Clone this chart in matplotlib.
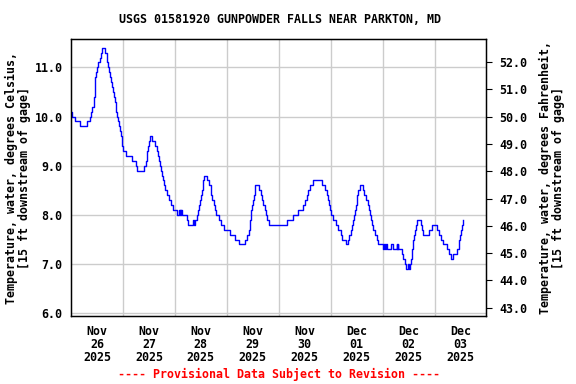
import matplotlib
matplotlib.use("Agg")
import matplotlib.pyplot as plt
from matplotlib.ticker import FixedLocator, FormatStrFormatter

# readings: hours since 2025-11-26 00:00, temperature in deg C (value holds until next reading)
hours = [
    0.0, 0.3, 2.0, 4.3, 7.5, 8.6, 9.4, 9.8, 10.5, 10.7, 10.9, 11.2, 11.6, 11.9,
    12.5, 13.2, 13.9, 14.3, 15.9, 16.5, 16.8, 17.0, 17.7, 18.0, 18.6, 19.0,
    19.4, 19.9, 20.3, 20.6, 20.9, 21.4, 21.8, 22.2, 22.8, 23.0, 23.4, 23.7,
    24.2, 25.3, 28.2, 29.9, 30.5, 33.7, 34.5, 35.0, 35.3, 35.7, 36.2, 36.6,
    37.6, 39.0, 39.6, 40.2, 40.5, 41.0, 41.4, 41.9, 42.3, 43.0, 43.6, 44.2,
    45.3, 46.1, 47.0, 48.8, 50.0, 50.3, 50.5, 50.8, 51.0, 51.3, 53.5, 54.2,
    56.5, 56.8, 57.1, 58.1, 58.8, 59.3, 59.6, 60.2, 60.5, 60.8, 61.2, 61.3,
    62.7, 63.8, 64.5, 64.8, 65.3, 66.1, 66.5, 67.0, 68.5, 69.2, 70.8, 73.5,
    75.8, 77.8, 80.6, 81.2, 82.4, 82.7, 82.9, 83.0, 83.3, 83.6, 83.9, 84.4,
    85.0, 85.2, 87.0, 87.6, 88.3, 88.9, 89.6, 90.1, 90.7, 91.6, 99.7, 102.7,
    105.1, 107.1, 108.1, 108.9, 109.7, 110.4, 112.0, 116.0, 117.4, 118.1,
    118.9, 119.4, 119.8, 120.3, 121.2, 122.3, 123.5, 124.6, 125.1, 127.1,
    128.2, 128.6, 129.2, 129.8, 130.2, 130.8, 131.2, 131.7, 132.0, 132.3,
    132.8, 133.5, 134.8, 135.4, 136.2, 137.1, 137.5, 138.2, 138.5, 139.0,
    139.7, 140.5, 141.3, 141.9, 144.0, 144.5, 145.0, 145.5, 146.0, 147.7,
    149.0, 150.5, 150.8, 151.1, 151.3, 152.8, 153.6, 154.3, 154.8, 155.5,
    156.0, 156.7, 157.1, 157.6, 157.9, 158.2, 158.5, 159.0, 159.4, 160.0,
    161.6, 162.0, 162.8, 165.6, 166.7, 169.0, 170.1, 171.0, 171.7, 173.6,
    174.8, 175.6, 176.7, 178.5, 179.3, 179.4, 179.8, 180.1, 180.5, 181.0,
]
temp_c = [
    10.1, 10.0, 9.9, 9.8, 9.9, 10.0, 10.1, 10.2, 10.3, 10.4, 10.6, 10.8, 10.9, 11.0,
    11.1, 11.2, 11.3, 11.4, 11.3, 11.2, 11.1, 11.0, 10.9, 10.8, 10.7, 10.6,
    10.5, 10.4, 10.3, 10.2, 10.1, 10.0, 9.9, 9.8, 9.7, 9.6, 9.5, 9.4,
    9.3, 9.2, 9.1, 9.0, 8.9, 9.0, 9.1, 9.2, 9.3, 9.4, 9.5, 9.6,
    9.5, 9.4, 9.3, 9.2, 9.1, 9.0, 8.9, 8.8, 8.7, 8.6, 8.5, 8.4,
    8.3, 8.2, 8.1, 8.0, 8.1, 8.0, 8.1, 8.0, 8.1, 8.0, 7.9, 7.8,
    7.9, 7.8, 7.9, 8.0, 8.1, 8.2, 8.3, 8.4, 8.5, 8.6, 8.7, 8.8,
    8.7, 8.6, 8.5, 8.4, 8.3, 8.2, 8.1, 8.0, 7.9, 7.8, 7.7, 7.6,
    7.5, 7.4, 7.5, 7.6, 7.7, 7.8, 7.9, 8.0, 8.1, 8.2, 8.3, 8.4,
    8.5, 8.6, 8.5, 8.4, 8.3, 8.2, 8.1, 8.0, 7.9, 7.8, 7.9, 8.0,
    8.1, 8.2, 8.3, 8.4, 8.5, 8.6, 8.7, 8.6, 8.5, 8.4,
    8.3, 8.2, 8.1, 8.0, 7.9, 7.8, 7.7, 7.6, 7.5, 7.4,
    7.5, 7.6, 7.7, 7.8, 7.9, 8.0, 8.1, 8.2, 8.3, 8.4,
    8.5, 8.6, 8.5, 8.4, 8.3, 8.2, 8.1, 8.0, 7.9, 7.8,
    7.7, 7.6, 7.5, 7.4, 7.3, 7.4, 7.3, 7.4, 7.3, 7.4,
    7.3, 7.4, 7.3, 7.4, 7.3, 7.2, 7.1, 7.0, 6.9, 7.0,
    6.9, 7.0, 7.1, 7.3, 7.4, 7.5, 7.6, 7.7, 7.8, 7.9,
    7.8, 7.7, 7.6, 7.7, 7.8, 7.7, 7.6, 7.5, 7.4, 7.3,
    7.2, 7.1, 7.2, 7.3, 7.4, 7.5, 7.6, 7.7, 7.8, 7.9,
]

day_labels = ["Nov\n26\n2025", "Nov\n27\n2025", "Nov\n28\n2025", "Nov\n29\n2025",
              "Nov\n30\n2025", "Dec\n01\n2025", "Dec\n02\n2025", "Dec\n03\n2025"]
c_ticks = [6.0, 7.0, 8.0, 9.0, 10.0, 11.0]
f_ticks = [43.0, 44.0, 45.0, 46.0, 47.0, 48.0, 49.0, 50.0, 51.0, 52.0]

title = "USGS 01581920 GUNPOWDER FALLS NEAR PARKTON, MD"
left_label = "Temperature, water, degrees Celsius,\n[15 ft downstream of gage]"
right_label = "Temperature, water, degrees Fahrenheit,\n[15 ft downstream of gage]"
footer = "---- Provisional Data Subject to Revision ----"

FONT = {"family": "DejaVu Sans Mono", "weight": "bold", "size": 8.4}
ylim_c = (5.951, 11.571)

fig = plt.figure(figsize=(5.76, 3.84), dpi=100)
ax = fig.add_axes([0.1233, 0.1779, 0.7213, 0.7198])

ax.plot(hours, temp_c, color="#0000ff", lw=1.0, drawstyle="steps-post")

ax.set_xlim(0, 24 * len(day_labels))
ax.set_ylim(*ylim_c)

# gridlines at midnight, labels centred at noon
ax.xaxis.set_major_locator(FixedLocator([24 * i for i in range(1, len(day_labels))]))
ax.xaxis.set_minor_locator(FixedLocator([24 * i + 12 for i in range(len(day_labels))]))
ax.set_xticklabels([], minor=False)
ax.set_xticklabels(day_labels, minor=True, fontdict=FONT, linespacing=1.0)
ax.tick_params(axis="x", which="both", length=0, pad=7)

ax.yaxis.set_major_locator(FixedLocator(c_ticks))
ax.yaxis.set_major_formatter(FormatStrFormatter("%.1f"))
ax.tick_params(axis="y", length=0, pad=6)
for lab in ax.get_yticklabels():
    lab.set_fontproperties(FONT)

ax.grid(True, which="major", color="#cccccc", lw=1.0)
ax.set_axisbelow(True)
for sp in ax.spines.values():
    sp.set_linewidth(1.0)

ax2 = ax.twinx()
ax2.set_position(ax.get_position())
ax2.set_ylim(ylim_c[0] * 1.8 + 32, ylim_c[1] * 1.8 + 32)
ax2.yaxis.set_major_locator(FixedLocator(f_ticks))
ax2.yaxis.set_major_formatter(FormatStrFormatter("%.1f"))
ax2.tick_params(axis="y", length=4, width=0.8, pad=5, direction="out")
for lab in ax2.get_yticklabels():
    lab.set_fontproperties(FONT)

fig.text(18 / 576, 1 - 178 / 384, left_label, rotation=90, ha="center", va="center",
         multialignment="center", linespacing=1.0, fontdict=FONT)
fig.text(552 / 576, 1 - 178 / 384, right_label, rotation=90, ha="center", va="center",
         multialignment="center", linespacing=1.0, fontdict=FONT)

fig.text(0.486, 0.948, title, ha="center", va="center", fontdict=FONT)
fig.text(0.484, 0.025, footer, ha="center", va="center", color="red", fontdict=FONT)

fig.savefig("out.png", dpi=100)
